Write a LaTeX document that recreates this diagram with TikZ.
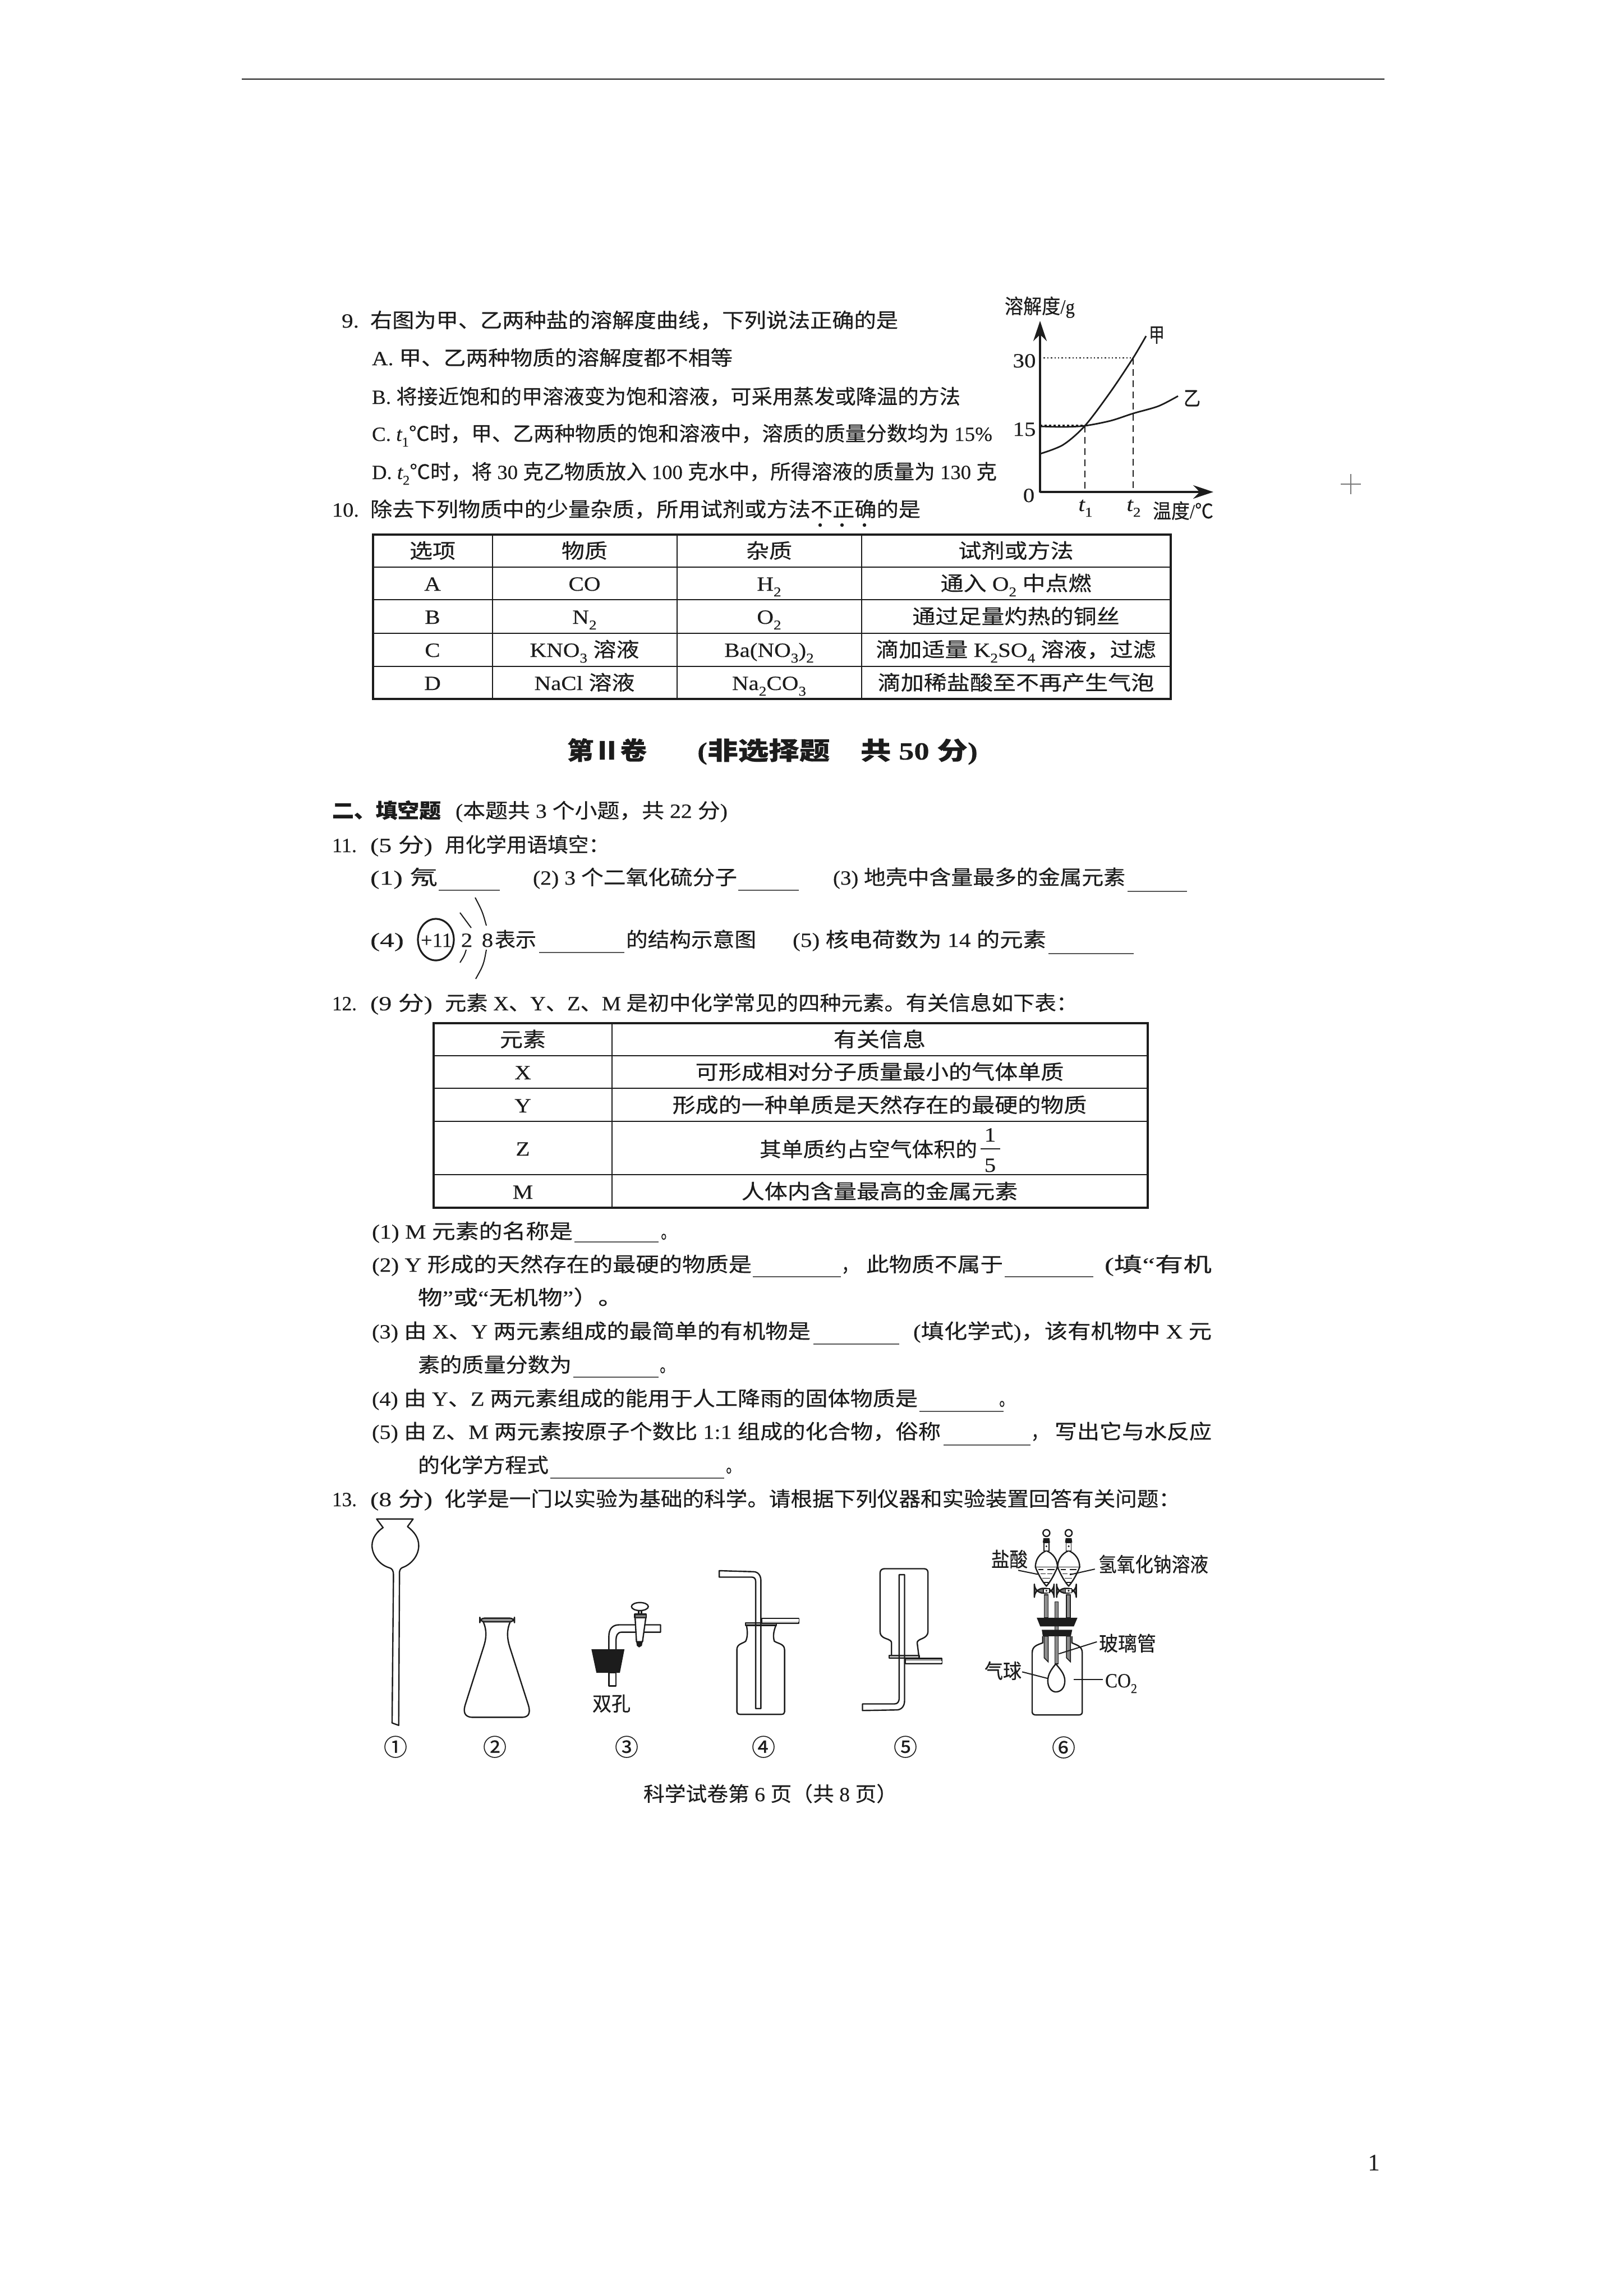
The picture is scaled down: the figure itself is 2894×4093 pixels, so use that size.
\documentclass[tikz,border=0pt]{standalone}
\usepackage{fontspec}
\usepackage{graphicx}
\usetikzlibrary{arrows.meta,calc}
\setmainfont[FakeBold=0.2]{Liberation Serif}
\newfontfamily\latf[FakeBold=0.2]{Liberation Serif}
\newfontfamily\cjkf[FakeBold=0.35]{Noto Sans CJK SC}
\XeTeXinterchartokenstate=1
\newXeTeXintercharclass\cjkcls
\newcount\cjkcnt
\newcommand{\setcjkrange}[2]{\cjkcnt=#1\relax\loop\XeTeXcharclass\cjkcnt=\cjkcls\ifnum\cjkcnt<#2\relax\advance\cjkcnt by 1\relax\repeat}
\setcjkrange{"2100}{"214F}
\setcjkrange{"2160}{"217F}
\setcjkrange{"2460}{"2473}
\setcjkrange{"3000}{"303F}
\setcjkrange{"4E00}{"9FFF}
\setcjkrange{"FF00}{"FFEF}
\XeTeXinterchartoks 0 \cjkcls={\cjkf}
\XeTeXinterchartoks 4095 \cjkcls={\cjkf}
\XeTeXinterchartoks \cjkcls 0={\latf}
\XeTeXinterchartoks \cjkcls 4095={\latf}
\definecolor{ink}{HTML}{1C1C1C}
\newcounter{tc}
\newcommand{\sbs}[1]{\raisebox{-0.28em}{\fontsize{6}{6}\selectfont\latf #1}}
\newcommand{\tl}[4]{\stepcounter{tc}\pgfmathsetmacro\tw{(#2-#1)*0.25}\node[txt,anchor=base west] (t\thetc) at (#1,#3+13) {\resizebox{\tw pt}{\height}{#4}};}
\newcommand{\ct}[3]{\stepcounter{tc}\node[txt,anchor=base] (t\thetc) at (#1,#2+13) {\scalebox{1.14}[1]{#3}};}
\newcommand{\cn}[3]{\stepcounter{tc}\node[txt,anchor=center,font=\fontsize{10.5}{12}\selectfont] (t\thetc) at (#1,#2) {#3};}
\tikzset{
 txt/.style={inner sep=0pt,outer sep=0pt,text=ink,font=\fontsize{9}{10}\selectfont},
 blank/.style={draw=ink!75,line width=0.55pt},
 rulein/.style={draw=ink,line width=0.45pt},
 ruleout/.style={draw=ink,line width=0.8pt},
 app/.style={draw=ink,line width=0.6pt,line join=round},
 appthin/.style={draw=ink,line width=0.4pt},
 lead/.style={draw=ink,line width=0.5pt},
 zoomed/.style={x=0.0892857pt,y=-0.0892857pt}
}
\begin{document}
\begin{tikzpicture}[x=0.25pt,y=-0.25pt]
\fill[white] (0,0) rectangle (2894,4093);
\useasboundingbox (0,0) rectangle (2894,4093);
\draw[ink,line width=0.55pt] (431,141) -- (2468,141);
\draw[ink!60,line width=0.3pt] (2390,863) -- (2426,863) (2408,845) -- (2408,881);
\node[txt,anchor=base,font=\fontsize{10.5}{12}\selectfont] (pageno) at (2449,3869) {1};

% Q9
\tl{609}{640}{571}{9.}
\tl{660}{1601}{571}{右图为甲、乙两种盐的溶解度曲线，下列说法正确的是}
\tl{663}{1306}{638}{A. 甲、乙两种物质的溶解度都不相等}
\tl{663}{1712}{707}{B. 将接近饱和的甲溶液变为饱和溶液，可采用蒸发或降温的方法}
\tl{663}{1769}{773}{C. {\itshape t}\sbs{1}℃时，甲、乙两种物质的饱和溶液中，溶质的质量分数均为 15\%}
\tl{663}{1777}{841}{D. {\itshape t}\sbs{2}℃时，将 30 克乙物质放入 100 克水中，所得溶液的质量为 130 克}
% chart
\draw[ink,line width=1pt,-{Stealth[length=9pt,width=6pt]}] (1854,878) -- (1854,572);
\draw[ink,line width=1pt,-{Stealth[length=9pt,width=6pt]}] (1854,877) -- (2163,877);
\draw[ink,line width=0.6pt,densely dotted] (1854,638) -- (2020,638);
\draw[ink,line width=1pt,densely dotted] (1854,759) -- (1934,759);
\draw[ink,line width=0.4pt,densely dashed] (2020,638) -- (2020,877);
\draw[ink,line width=0.4pt,densely dashed] (1934,759) -- (1934,877);
\draw[ink,line width=0.7pt] plot[smooth] coordinates {(1854,809) (1895,793) (1934,759) (1980,698) (2020,638) (2043,599)};
\draw[ink,line width=0.7pt] plot[smooth] coordinates {(1854,760) (1895,761) (1934,759) (1980,750) (2020,737) (2065,724) (2100,706)};
\tl{1791}{1916}{546}{溶解度/g}
\tl{2048}{2076}{597}{甲}
\tl{2110}{2140}{710}{乙}
\ct{1826}{642}{30}
\ct{1826}{764}{15}
\ct{1834}{882}{0}
\ct{1935}{898}{{\itshape t}\sbs{1}}
\ct{2021}{898}{{\itshape t}\sbs{2}}
\tl{2055}{2163}{911}{温度/℃}

% Q10
\tl{592}{640}{908}{10.}
\tl{660}{1641}{908}{除去下列物质中的少量杂质，所用试剂或方法不正确的是}
\fill[ink] (1462,936) circle (3.2) (1501,936) circle (3.2) (1541,936) circle (3.2);
\draw[ruleout] (665,953) rectangle (2087,1246);
\draw[rulein] (665,1011) -- (2087,1011) (665,1069) -- (2087,1069) (665,1129) -- (2087,1129) (665,1188) -- (2087,1188);
\draw[rulein] (878,953) -- (878,1246) (1207,953) -- (1207,1246) (1536,953) -- (1536,1246);
\ct{771}{982}{选项}\ct{1042}{982}{物质}\ct{1371}{982}{杂质}\ct{1811}{982}{试剂或方法}
\ct{771}{1040}{A}\ct{1042}{1040}{CO}\ct{1371}{1040}{H\sbs{2}}\ct{1811}{1040}{通入 O\sbs{2} 中点燃}
\ct{771}{1099}{B}\ct{1042}{1099}{N\sbs{2}}\ct{1371}{1099}{O\sbs{2}}\ct{1811}{1099}{通过足量灼热的铜丝}
\ct{771}{1158}{C}\ct{1042}{1158}{KNO\sbs{3} 溶液}\ct{1371}{1158}{Ba(NO\sbs{3})\sbs{2}}\ct{1811}{1158}{滴加适量 K\sbs{2}SO\sbs{4} 溶液，过滤}
\ct{771}{1217}{D}\ct{1042}{1217}{NaCl 溶液}\ct{1371}{1217}{Na\sbs{2}CO\sbs{3}}\ct{1811}{1217}{滴加稀盐酸至不再产生气泡}

% Section title
\node[txt,anchor=base west,font=\fontsize{11}{12}\bfseries\selectfont] (title1) at (1011,1354) {\resizebox{35.5pt}{\height}{第Ⅱ卷}};
\node[txt,anchor=base west,font=\fontsize{11}{12}\bfseries\selectfont] (title2) at (1243,1354) {\resizebox{125pt}{\height}{(非选择题\hspace{1em}共 50 分)}};
\node[txt,anchor=base west,font=\fontsize{9}{10}\bfseries\selectfont] (sec2) at (592,1458) {\resizebox{48.5pt}{\height}{二、填空题}};
\tl{812}{1297}{1445}{(本题共 3 个小题，共 22 分)}

% Q11
\tl{592}{636}{1506}{11.}
\tl{660}{771}{1506}{(5 分)}
\tl{793}{1086}{1506}{用化学用语填空：}
\tl{660}{780}{1564}{(1) 氖}
\draw[blank] (782,1587) -- (891,1587);
\tl{950}{1314}{1564}{(2) 3 个二氧化硫分子}
\draw[blank] (1316,1587) -- (1424,1587);
\tl{1485}{2006}{1564}{(3) 地壳中含量最多的金属元素}
\draw[blank] (2010,1589) -- (2116,1589);
\tl{660}{720}{1675}{(4)}
\draw[ink,line width=0.8pt] (777,1675) ellipse (32 and 37);
\tl{750}{806}{1675}{+11}
\ct{832}{1675}{2}
\ct{869}{1675}{8}
\draw[ink,line width=0.5pt] (820,1627) .. controls (830,1640) .. (840,1654);
\draw[ink,line width=0.5pt] (831,1693) .. controls (828,1703) .. (820,1716);
\draw[ink,line width=0.5pt] (847,1600) .. controls (860,1625) .. (867,1650);
\draw[ink,line width=0.5pt] (867,1693) .. controls (862,1720) .. (848,1745);
\tl{882}{956}{1675}{表示}
\draw[blank] (961,1698) -- (1113,1698);
\tl{1116}{1348}{1675}{的结构示意图}
\tl{1413}{1865}{1675}{(5) 核电荷数为 14 的元素}
\draw[blank] (1869,1700) -- (2021,1700);

% Q12
\tl{592}{636}{1788}{12.}
\tl{660}{771}{1788}{(9 分)}
\tl{793}{1921}{1788}{元素 X、Y、Z、M 是初中化学常见的四种元素。有关信息如下表：}
\draw[ruleout] (773,1824) rectangle (2046,2153);
\draw[rulein] (773,1882) -- (2046,1882) (773,1940) -- (2046,1940) (773,1999) -- (2046,1999) (773,2094) -- (2046,2094);
\draw[rulein] (1091,1824) -- (1091,2153);
\ct{932}{1853}{元素}\ct{1568}{1853}{有关信息}
\ct{932}{1911}{X}\ct{1568}{1911}{可形成相对分子质量最小的气体单质}
\ct{932}{1970}{Y}\ct{1568}{1970}{形成的一种单质是天然存在的最硬的物质}
\ct{932}{2047}{Z}\tl{1354}{1742}{2049}{其单质约占空气体积的}
\ct{1765}{2022}{1}\ct{1765}{2076}{5}
\draw[ink,line width=0.45pt] (1748,2048) -- (1783,2048);
\ct{932}{2124}{M}\ct{1568}{2124}{人体内含量最高的金属元素}

\tl{663}{1021}{2195}{(1) M 元素的名称是}
\draw[blank] (1024,2214) -- (1174,2214);
\tl{1178}{1205}{2195}{。}
\tl{663}{1340}{2254}{(2) Y 形成的天然存在的最硬的物质是}
\draw[blank] (1342,2276) -- (1499,2276);
\tl{1500}{1530}{2254}{，}
\tl{1544}{1788}{2254}{此物质不属于}
\draw[blank] (1791,2276) -- (1949,2276);
\tl{1969}{2160}{2254}{(填“有机}
\tl{745}{1110}{2313}{物”或“无机物”）。}
\tl{663}{1445}{2373}{(3) 由 X、Y 两元素组成的最简单的有机物是}
\draw[blank] (1450,2396) -- (1603,2396);
\tl{1628}{2160}{2373}{(填化学式)，该有机物中 X 元}
\tl{745}{1019}{2433}{素的质量分数为}
\draw[blank] (1022,2455) -- (1174,2455);
\tl{1176}{1203}{2433}{。}
\tl{663}{1636}{2493}{(4) 由 Y、Z 两元素组成的能用于人工降雨的固体物质是}
\draw[blank] (1639,2516) -- (1789,2516);
\tl{1781}{1808}{2493}{。}
\tl{663}{1677}{2552}{(5) 由 Z、M 两元素按原子个数比 1:1 组成的化合物，俗称}
\draw[blank] (1682,2576) -- (1837,2576);
\tl{1838}{1868}{2552}{，}
\tl{1880}{2160}{2552}{写出它与水反应}
\tl{745}{978}{2612}{的化学方程式}
\draw[blank] (981,2635) -- (1291,2635);
\tl{1294}{1321}{2612}{。}

% Q13
\tl{592}{636}{2672}{13.}
\tl{660}{771}{2672}{(8 分)}
\tl{792}{2104}{2672}{化学是一门以实验为基础的科学。请根据下列仪器和实验装置回答有关问题：}

% Apparatus 1-3
\begin{scope}[shift={(640,2700)},zoomed]
\draw[app] (165,1040) -- (172,300) .. controls (172,280) and (165,268) .. (150,265)
  .. controls (100,250) and (65,200) .. (65,155) .. controls (65,115) and (90,85) .. (120,65)
  -- (88,22) -- (270,22) -- (242,60) .. controls (275,85) and (298,115) .. (298,155)
  .. controls (298,205) and (260,250) .. (215,265) .. controls (205,270) and (200,282) .. (202,300)
  -- (198,1052) -- cycle;
\draw[app] (620,535) .. controls (640,580) and (635,620) .. (622,660) -- (530,950)
  .. controls (515,1000) and (540,1012) .. (570,1012) -- (810,1012)
  .. controls (840,1012) and (860,1000) .. (845,950) -- (752,660)
  .. controls (740,620) and (735,580) .. (755,535);
\draw[app,fill=ink!45,rounded corners=2pt] (603,517) rectangle (776,535);
\fill[ink] (1160,672) -- (1325,672) -- (1302,790) -- (1185,790) -- cycle;
\draw[app] (1247,790) rectangle (1283,855);
\draw[app] (1247,672) -- (1247,610) .. controls (1247,570) and (1265,550) .. (1300,550) -- (1505,550) -- (1505,587) -- (1310,587)
  .. controls (1290,587) and (1283,605) .. (1283,625) -- (1283,672);
\draw[app,fill=white] (1378,512) -- (1432,512) -- (1415,635) -- (1385,635) -- cycle;
\fill[ink] (1383,632) -- (1416,632) -- (1412,655) -- (1398,663) -- (1387,655) -- cycle;
\draw[app,fill=ink!60] (1376,497) rectangle (1434,515);
\draw[app] (1396,478) -- (1396,497) (1410,478) -- (1410,497);
\draw[app,fill=white] (1402,459) ellipse (42 and 20);
\end{scope}
\tl{1056}{1124}{3037}{双孔}
\cn{705}{3114}{①}\cn{882}{3114}{②}\cn{1117}{3114}{③}\cn{1361}{3114}{④}\cn{1614}{3114}{⑤}\cn{1896}{3115}{⑥}

% Apparatus 4,5
\begin{scope}[shift={(1200,2700)},zoomed]
\draw[app] (366,553) .. controls (372,585) and (372,610) .. (362,632) .. controls (345,645) and (318,645) .. (318,675)
  -- (318,985) .. controls (318,993) and (325,997) .. (335,997) -- (540,997) .. controls (550,997) and (556,993) .. (556,985)
  -- (556,675) .. controls (556,645) and (525,645) .. (505,632) .. controls (498,610) and (500,585) .. (513,553);
\draw[app,fill=ink!35] (362,540) rectangle (515,553);
\draw[app,fill=ink!35] (442,518) rectangle (628,543);
\fill[white] (444,520) rectangle (626,534);
\draw[app] (412,968) -- (412,335) .. controls (412,320) and (405,312) .. (392,312) -- (230,312) -- (230,280) -- (400,285)
  .. controls (425,285) and (438,305) .. (438,330) -- (438,968) -- cycle;
\draw[app] (1090,703) -- (1090,640) .. controls (1090,630) and (1080,625) .. (1060,618) .. controls (1040,610) and (1033,600) .. (1033,585)
  -- (1033,290) .. controls (1033,278) and (1042,270) .. (1055,270) -- (1252,270) .. controls (1265,270) and (1272,278) .. (1272,290)
  -- (1272,585) .. controls (1272,600) and (1260,612) .. (1245,618) .. controls (1228,625) and (1218,630) .. (1218,640) -- (1226,703);
\draw[app,fill=ink!35] (1078,703) rectangle (1228,717);
\draw[app,fill=ink!35] (1160,718) rectangle (1342,745);
\fill[white] (1162,730) rectangle (1340,738);
\draw[app] (1128,300) -- (1128,915) .. controls (1128,935) and (1120,945) .. (1105,945) -- (945,945) -- (945,978) -- (1115,975)
  .. controls (1140,975) and (1155,955) .. (1155,930) -- (1155,300) -- cycle;
\end{scope}

% Apparatus 6
\begin{scope}[shift={(1700,2700)},zoomed]
\draw[app] (445,607) -- (445,640) .. controls (420,650) and (392,655) .. (392,690) -- (392,985)
  .. controls (392,995) and (400,1000) .. (410,1000) -- (625,1000) .. controls (635,1000) and (642,995) .. (642,985)
  -- (642,690) .. controls (642,655) and (610,650) .. (590,640) -- (590,607);
\foreach \cx in {463,574}{
 \draw[appthin,fill=ink!50] (\cx-11,400) rectangle (\cx+9,515);
 \draw[appthin,fill=ink!50] (\cx-11,607) -- (\cx-11,715) -- (\cx+9,735) -- (\cx+9,607) -- cycle;
 \draw[app,fill=white] (\cx,180) .. controls (\cx-35,195) and (\cx-55,225) .. (\cx-55,262)
   .. controls (\cx-40,300) and (\cx-20,335) .. (\cx,357) .. controls (\cx+20,335) and (\cx+40,300) .. (\cx+55,262)
   .. controls (\cx+55,225) and (\cx+35,195) .. (\cx,180) -- cycle;
 \draw[appthin] (\cx-55,262) -- (\cx+55,262);
 \draw[appthin] (\cx-40,275) -- (\cx-15,275) (\cx+5,275) -- (\cx+40,275)
   (\cx-30,295) -- (\cx-5,295) (\cx+5,295) -- (\cx+30,295)
   (\cx-20,318) -- (\cx+18,318) (\cx-12,338) -- (\cx+10,338);
 \draw[app] (\cx,92) circle (17);
 \fill[ink] (\cx-15,118) -- (\cx+15,118) -- (\cx+18,140) -- (\cx-18,140) -- cycle;
 \draw[appthin,fill=white] (\cx-13,140) rectangle (\cx+13,180);
 \fill[ink] (\cx,158) circle (5);
 \draw[app,fill=ink!60,rounded corners=4pt] (\cx-60,368) rectangle (\cx+38,392);
 \draw[appthin,fill=white] (\cx-15,370) rectangle (\cx+15,390);
 \fill[ink] (\cx,380) circle (5);
}
\draw[appthin,fill=ink!50] (505,435) rectangle (522,745);
\fill[ink] (415,515) -- (618,515) -- (600,558) -- (432,558) -- cycle;
\fill[ink] (440,575) -- (592,575) -- (585,607) -- (445,607) -- cycle;
\draw[app,fill=white] (510,745) .. controls (490,770) and (470,795) .. (470,830) .. controls (470,865) and (490,885) .. (510,885)
  .. controls (535,885) and (555,865) .. (555,830) .. controls (555,795) and (530,770) .. (510,745) -- cycle;
\draw[lead] (322,278) -- (420,298);
\draw[lead] (705,272) -- (580,300);
\draw[lead] (715,635) -- (525,695);
\draw[lead] (342,785) -- (470,818);
\draw[lead] (598,822) -- (745,822);
\end{scope}
\tl{1767}{1832}{2780}{盐酸}
\tl{1958}{2154}{2789}{氢氧化钠溶液}
\tl{1959}{2061}{2930}{玻璃管}
\tl{1755}{1821}{2979}{气球}
\tl{1970}{2027}{2995}{CO\sbs{2}}

\tl{1147}{1600}{3198}{科学试卷第 6 页（共 8 页）}
\end{tikzpicture}
\end{document}
